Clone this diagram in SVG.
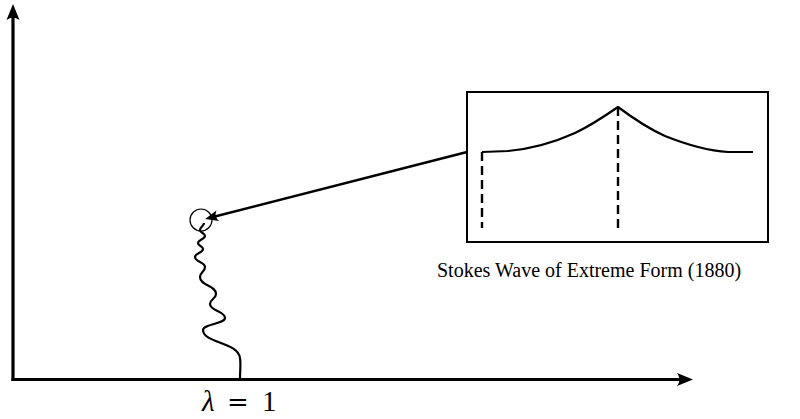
<svg xmlns="http://www.w3.org/2000/svg" width="800" height="419" viewBox="0 0 800 419">
<style>
.axis{fill:none;stroke:#000;stroke-width:3.2}
.thin{fill:none;stroke:#000;stroke-width:1.6}
.wave{fill:none;stroke:#000;stroke-width:2.2;stroke-linejoin:round}
.dash{fill:none;stroke:#000;stroke-width:2.4;stroke-dasharray:9 5}
.ptr{fill:none;stroke:#000;stroke-width:2.4}
.cap{font-family:"Liberation Serif","Times New Roman",serif;font-size:20px;fill:#000}
.math{font-family:"Liberation Serif","Times New Roman",serif;font-size:29px;fill:#000}
</style>
<defs>
<marker id="ah" markerUnits="userSpaceOnUse" markerWidth="30" markerHeight="20" viewBox="-12 -10 30 20" refX="0" refY="0" orient="auto">
<path d="M8,0 L-8,-6.5 Q-3,0 -8,6.5 Z" fill="#000"/>
</marker>
<marker id="ph" markerUnits="userSpaceOnUse" markerWidth="30" markerHeight="20" viewBox="-12 -10 30 20" refX="0" refY="0" orient="auto">
<path d="M6,0 L-7,-5.5 Q-3,0 -7,5.5 Z" fill="#000"/>
</marker>
</defs>
<g id="axes">
<path class="axis" d="M13,381 L13,12" marker-end="url(#ah)"/>
<path class="axis" d="M11.5,379.5 L685,379.5" marker-end="url(#ah)"/>
</g>
<g id="branch">
<circle class="thin" cx="201" cy="220" r="11" style="stroke-width:1.2"/>
<path class="wave" d="M204,223 C204,226 200,227 200,230 C200,233 205,233 205,236 C205,239 198,240 198,243 C198,246 203,246 203,249 C203,253 195,253 195,257 C195,262 205,262 205,267 C205,272 200,272 200,277 C200,286 216,285 216,294 C216,299 210,299 210,304 C210,311 225,311 225,318 C225,324 203,324 203,330 C203,343 238,342 240,358 C241,364 240,370 240,379"/>
</g>
<g id="inset">
<rect class="thin" x="467" y="92" width="301" height="150" style="stroke-width:2"/>
<path class="wave" d="M482,152 L508,151 C530,149 555,142 575,133 C592,125 605,116 618,107 C630,116 645,127 665,136 C690,146 712,151 728,152 L753,152"/>
<path class="dash" d="M482,152 L482,228"/>
<path class="dash" d="M618,107 L618,228"/>
</g>
<g id="connectors">
<path class="ptr" d="M467,152 L211,217.5" marker-end="url(#ph)"/>
</g>
<g id="labels">
<text class="cap" x="437" y="277">Stokes Wave of Extreme Form (1880)</text>
<text class="math" y="411"><tspan x="202" font-style="italic">λ</tspan><tspan x="227" font-family="DejaVu Serif" font-size="26">=</tspan><tspan x="262">1</tspan></text>
</g>
</svg>
